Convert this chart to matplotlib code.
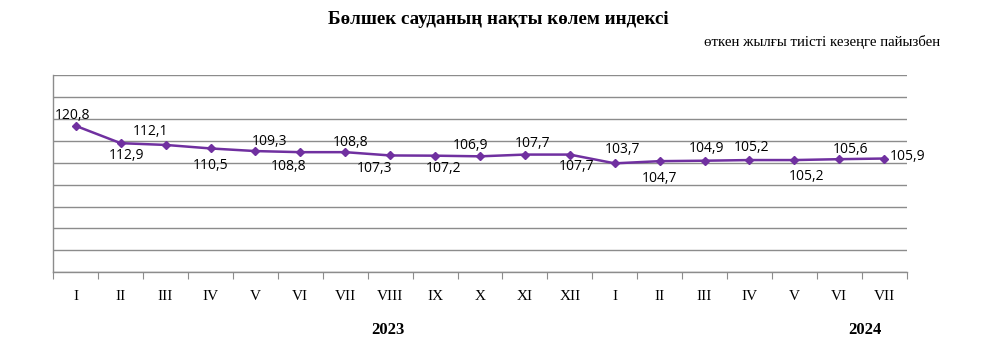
import matplotlib
matplotlib.use("Agg")
import matplotlib.pyplot as plt
import numpy as np

months = ["I", "II", "III", "IV", "V", "VI", "VII", "VIII", "IX", "X", "XI", "XII",
          "I", "II", "III", "IV", "V", "VI", "VII"]
values = [120.8, 112.9, 112.1, 110.5, 109.3, 108.8, 108.8, 107.3, 107.2, 106.9,
          107.7, 107.7, 103.7, 104.7, 104.9, 105.2, 105.2, 105.6, 105.9]
labels = ["120,8", "112,9", "112,1", "110,5", "109,3", "108,8", "108,8", "107,3",
          "107,2", "106,9", "107,7", "107,7", "103,7", "104,7", "104,9", "105,2",
          "105,2", "105,6", "105,9"]
years = ["2023", "2024"]
title = "Бөлшек сауданың нақты көлем индексі"
subtitle = "өткен жылғы тиісті кезеңге пайызбен"

# label offsets in pixels (dx, dy)
offsets = [(-3, 10), (6, -12), (-15, 13), (0, -17), (14, 10), (-12, -14), (5, 10),
           (-16, -13), (8, -13), (-9, 11), (8, 11), (7, -12), (8, 14), (0, -17),
           (2, 12), (2, 13), (12, -16), (11, 10), (23, 2)]

W, H = 995, 353
fig = plt.figure(figsize=(W / 100, H / 100), dpi=100)
ax = fig.add_axes([53.3 / W, 1 - 272.3 / H, (906.7 - 53.3) / W, (272.3 - 75) / H])

x = np.arange(len(values))
ax.plot(x, values, color="#7030A0", lw=1.8, marker="D", ms=4, zorder=3)

ax.set_xlim(-0.5, len(values) - 0.5)
ax.set_ylim(54, 144)
ax.set_yticks(np.arange(54, 145, 10))
ax.yaxis.grid(True, color="#8c8c8c", lw=1)
ax.set_axisbelow(True)
ax.tick_params(axis="y", left=False, labelleft=False)

ax.set_xticks(np.arange(-0.5, len(values), 1))
ax.set_xticklabels([])
ax.set_xticks(x, minor=True)
ax.set_xticklabels(months, minor=True, family="Liberation Serif", fontsize=11)
ax.tick_params(axis="x", which="major", length=5, color="#8c8c8c", direction="out")
ax.tick_params(axis="x", which="minor", length=0, pad=13)

for s in ["top", "right"]:
    ax.spines[s].set_visible(False)
for s in ["left", "bottom"]:
    ax.spines[s].set_color("#8c8c8c")
    ax.spines[s].set_linewidth(1)

for xi, v, lab, (dx, dy) in zip(x, values, labels, offsets):
    ax.annotate(lab, (xi, v), xytext=(dx, dy), textcoords="offset pixels",
                ha="center", va="center", family="Open Sans", fontsize=10, color="#000000")

fig.text(498 / W, 1 - 19 / H, title, ha="center", va="center",
         family="Liberation Serif", fontweight="bold", fontsize=13.7)
fig.text(822 / W, 1 - 42 / H, subtitle, ha="center", va="center",
         family="Liberation Serif", fontsize=10.7)
fig.text(388 / W, 1 - 330 / H, years[0], ha="center", va="center",
         family="Liberation Serif", fontweight="bold", fontsize=12)
fig.text(865 / W, 1 - 330 / H, years[1], ha="center", va="center",
         family="Liberation Serif", fontweight="bold", fontsize=12)

fig.savefig("out.png", dpi=100)
